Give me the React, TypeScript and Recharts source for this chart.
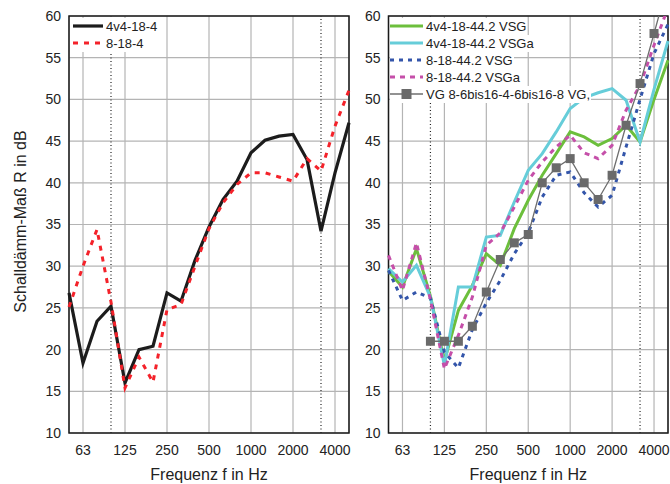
import React from 'react';
import { LineChart, Line, XAxis, YAxis, CartesianGrid, ReferenceLine, ReferenceArea, Legend } from 'recharts';

const FONT = '"Liberation Sans", Arial, sans-serif';

// third-octave bands 50 Hz .. 5000 Hz
const bands = ['50', '63', '80', '100', '125', '160', '200', '250', '315', '400', '500', '630', '800', '1000', '1250', '1600', '2000', '2500', '3150', '4000', '5000'];
const xTicks = [1, 4, 7, 10, 13, 16, 19];
const yTicks = [10, 15, 20, 25, 30, 35, 40, 45, 50, 55, 60];
const markerBands = [3, 18];

// left panel
const v4v4_18_4 = [26.8, 18.4, 23.4, 25.2, 16.0, 20.0, 20.4, 26.8, 25.8, 30.7, 34.7, 38.0, 40.2, 43.6, 45.1, 45.6, 45.8, 42.8, 34.2, 41.2, 47.2];
const v8_18_4 = [25.1, 30.0, 34.4, 25.7, 15.4, 19.1, 16.1, 24.8, 25.4, 30.0, 34.5, 37.6, 39.8, 41.2, 41.2, 40.7, 40.2, 42.9, 41.4, 46.8, 51.1];

// right panel
const v4v4_vsg = [29.4, 27.5, 32.1, 26.4, 18.6, 24.7, 27.7, 31.5, 30.1, 34.5, 37.9, 40.9, 43.5, 46.1, 45.5, 44.5, 45.3, 46.9, 44.9, 50.0, 54.7];
const v4v4_vsga = [29.7, 28.1, 30.1, 26.3, 18.1, 27.5, 27.5, 33.5, 33.7, 37.7, 41.5, 43.5, 46.1, 48.9, 50.2, 50.8, 51.3, 49.9, 44.9, 51.2, 57.0];
const v8_vsg = [29.5, 25.9, 26.9, 26.2, 19.7, 17.8, 22.4, 25.6, 28.3, 31.5, 34.0, 38.3, 40.9, 41.3, 38.8, 37.1, 38.5, 44.3, 50.0, 55.5, 59.0];
const v8_vsga = [31.3, 27.1, 32.8, 26.0, 17.7, 21.7, 26.3, 32.5, 34.0, 37.1, 40.3, 42.5, 44.3, 45.7, 43.6, 42.9, 44.5, 48.7, 51.7, 56.5, 61.0];
const vg = [null, null, null, 21, 21, 21, 22.8, 26.9, 30.8, 32.8, 33.8, 40.0, 41.8, 42.9, 40.0, 38.0, 40.9, 46.9, 51.9, 57.9, 64.0];

const leftData = bands.map((b, i) => ({ i, f: b, a: v4v4_18_4[i], b: v8_18_4[i] }));
const rightData = bands.map((b, i) => ({ i, f: b, g: v4v4_vsg[i], c: v4v4_vsga[i], bl: v8_vsg[i], m: v8_vsga[i], vg: vg[i] }));

type Item = { name: string; color: string; width: number; dash?: string; marker?: boolean };

const leftItems: Item[] = [
  { name: '4v4-18-4', color: '#1c1c1c', width: 3.2 },
  { name: '8-18-4', color: '#f4222a', width: 3, dash: '5 6' },
];
const rightItems: Item[] = [
  { name: '4v4-18-44.2 VSG', color: '#6cbf3c', width: 3 },
  { name: '4v4-18-44.2 VSGa', color: '#66cdd9', width: 3 },
  { name: '8-18-44.2 VSG', color: '#3355aa', width: 3, dash: '4 5' },
  { name: '8-18-44.2 VSGa', color: '#c54fa9', width: 3, dash: '5 5' },
  { name: 'VG 8-6bis16-4-6bis16-8 VG,', color: '#6e6e6e', width: 1.3, marker: true },
];

const LegendBox = ({ items, sampleW }: { items: Item[]; sampleW: number }) => (
  <div style={{ fontFamily: FONT, fontSize: 13, color: '#222', lineHeight: '17px' }}>
    {items.map((it) => (
      <div key={it.name} style={{ height: 17, display: 'flex', alignItems: 'center' }}>
        <span style={{ display: 'inline-flex', alignItems: 'center', background: '#fff', paddingRight: 1 }}>
          <svg width={sampleW} height={12} style={{ display: 'block' }}>
            <line x1={0} y1={6} x2={sampleW} y2={6} stroke={it.color} strokeWidth={it.width} strokeDasharray={it.dash} />
            {it.marker && <rect x={sampleW / 2 - 5} y={1} width={10} height={10} fill="#6a6a6a" />}
          </svg>
          <span style={{ marginLeft: 3, whiteSpace: 'nowrap' }}>{it.name}</span>
        </span>
      </div>
    ))}
  </div>
);

const SquareDot = (props: any) => {
  const { cx, cy, index, value } = props;
  if (value == null || cx == null || cy == null) return <g key={`e-${index}`} />;
  return <rect key={`d-${index}`} x={cx - 4.5} y={cy - 4.5} width={9} height={9} fill="#6a6a6a" />;
};

const tickStyle = { fontSize: 14, fill: '#222', fontFamily: FONT };
const labelStyle = { fontSize: 16, fill: '#222', fontFamily: FONT };

const Frame = () => null;

export default function App() {
  const commonX = (
    <XAxis
      dataKey="i"
      type="number"
      domain={[0, 20]}
      ticks={xTicks}
      tickFormatter={(v: number) => bands[v]}
      tick={tickStyle}
      tickLine={false}
      axisLine={false}
      tickMargin={6}
      height={51}
      interval={0}
      label={{ value: 'Frequenz f in Hz', position: 'insideBottom', offset: 4, style: labelStyle }}
    />
  );
  return (
    <div style={{ position: 'absolute', left: 0, top: 0, width: 670, height: 484, background: '#fff', fontFamily: FONT }}>
      <div style={{ position: 'absolute', left: 0, top: 0 }}>
        <LineChart width={355} height={484} data={leftData} margin={{ top: 16, right: 6, bottom: 0, left: 0 }}>
          <CartesianGrid stroke="#b4b4b4" strokeWidth={1.2} />
          {commonX}
          <YAxis
            type="number"
            domain={[10, 60]}
            ticks={yTicks}
            allowDataOverflow
            width={69}
            tick={tickStyle}
            tickLine={false}
            axisLine={false}
            interval={0}
            label={{ value: 'Schalldämm-Maß R in dB', angle: -90, position: 'center', dx: -14, dy: -3, style: labelStyle }}
          />
          {markerBands.map((m) => (
            <ReferenceLine key={m} x={m} stroke="#222" strokeWidth={1.2} strokeDasharray="1 2.5" />
          ))}
          <Line dataKey="a" stroke="#1c1c1c" strokeWidth={3.2} dot={false} isAnimationActive={false} />
          <Line dataKey="b" stroke="#f4222a" strokeWidth={3} strokeDasharray="5 6" dot={false} isAnimationActive={false} />
          <ReferenceArea x1={0} x2={20} y1={10} y2={60} fill="none" fillOpacity={0} stroke="#1a1a1a" strokeWidth={1.5} />
          <Legend
            layout="vertical"
            verticalAlign="middle"
            align="center"
            wrapperStyle={{ left: 73, top: 17.5, width: 'auto', height: 'auto' }}
            content={() => <LegendBox items={leftItems} sampleW={30} />}
          />
        </LineChart>
      </div>
      <div style={{ position: 'absolute', left: 355, top: 0 }}>
        <LineChart width={315} height={484} data={rightData} margin={{ top: 16, right: 2, bottom: 0, left: 0 }}>
          <CartesianGrid stroke="#b4b4b4" strokeWidth={1.2} />
          {commonX}
          <YAxis
            type="number"
            domain={[10, 60]}
            ticks={yTicks}
            allowDataOverflow
            width={33.5}
            tick={tickStyle}
            tickLine={false}
            axisLine={false}
            interval={0}
          />
          {markerBands.map((m) => (
            <ReferenceLine key={m} x={m} stroke="#222" strokeWidth={1.2} strokeDasharray="1 2.5" />
          ))}
          <Line dataKey="g" stroke="#6cbf3c" strokeWidth={3} dot={false} isAnimationActive={false} />
          <Line dataKey="c" stroke="#66cdd9" strokeWidth={3} dot={false} isAnimationActive={false} />
          <Line dataKey="bl" stroke="#3355aa" strokeWidth={3} strokeDasharray="4 5" dot={false} isAnimationActive={false} />
          <Line dataKey="m" stroke="#c54fa9" strokeWidth={3} strokeDasharray="5 5" dot={false} isAnimationActive={false} />
          <Line dataKey="vg" stroke="#6e6e6e" strokeWidth={1.3} dot={SquareDot} isAnimationActive={false} />
          <ReferenceArea x1={0} x2={20} y1={10} y2={60} fill="none" fillOpacity={0} stroke="#1a1a1a" strokeWidth={1.5} />
          <Legend
            layout="vertical"
            verticalAlign="middle"
            align="center"
            wrapperStyle={{ left: 35, top: 17.5, width: 'auto', height: 'auto' }}
            content={() => <LegendBox items={rightItems} sampleW={33} />}
          />
        </LineChart>
      </div>
    </div>
  );
}
